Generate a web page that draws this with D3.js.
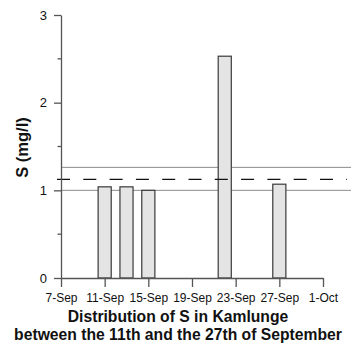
<!DOCTYPE html>
<html><head><meta charset="utf-8">
<script src="https://cdn.jsdelivr.net/npm/d3@7"></script>
<style>body{margin:0;background:#fff}svg{display:block}text{font-family:Arial,"Liberation Sans",sans-serif}</style>
</head><body>
<svg id="c" width="354" height="345"></svg>
<script>
const dates = ["2008-09-11","2008-09-13","2008-09-15","2008-09-22","2008-09-27"];
const values = [1.04, 1.04, 1.0, 2.53, 1.07];
const tickDates = ["2008-09-07","2008-09-11","2008-09-15","2008-09-19","2008-09-23","2008-09-27","2008-10-01"];
const yTicks = [0,1,2,3];
const refLines = [1.262, 1.0];
const meanLine = [1.125];
const titleLines = ["Distribution of S in Kamlunge","between the 11th and the 27th of September"];
const yLabel = "S (mg/l)";

const parse = d3.utcParse("%Y-%m-%d");
const fmt = d3.utcFormat("%-d-%b");
const svg = d3.select("#c");
const x = d3.scaleUtc().domain([parse(tickDates[0]), parse(tickDates[tickDates.length-1])]).range([61,323]);
const y = d3.scaleLinear().domain([0,3]).range([278,15]);
const dayW = x(parse("2008-09-12")) - x(parse("2008-09-11"));
const barW = dayW*1.2;

// reference lines
svg.selectAll(".ref").data(refLines).enter().append("line")
  .attr("x1",61).attr("x2",351).attr("y1",d=>y(d)).attr("y2",d=>y(d))
  .attr("stroke","#8c8c8c").attr("stroke-width",1);

// bars
svg.selectAll(".bar").data(dates.map((d,i)=>({d:parse(d),v:values[i]}))).enter().append("rect")
  .attr("x",d=>x(d.d)-barW/2).attr("width",barW)
  .attr("y",d=>y(d.v)).attr("height",d=>y(0)-y(d.v))
  .attr("fill","#e4e4e4").attr("stroke","#3a3a3a").attr("stroke-width",1.2);

// dashed mean line
svg.selectAll(".mean").data(meanLine).enter().append("line")
  .attr("x1",57).attr("x2",347).attr("y1",d=>y(d)).attr("y2",d=>y(d))
  .attr("stroke","#111").attr("stroke-width",1.3).attr("stroke-dasharray","13,13.3");

// y axis
const yAxis = d3.axisLeft(y).tickValues(yTicks).tickFormat(d3.format("d")).tickSize(7).tickSizeOuter(0);
const gy = svg.append("g").attr("transform","translate(61,0)").call(yAxis);
gy.select(".domain").attr("stroke","#555").attr("stroke-width",1.3);
gy.selectAll(".tick line").attr("stroke","#555").attr("stroke-width",1.3);
gy.selectAll(".tick text").attr("font-size",13).attr("fill","#111").attr("x",-14);
// minor ticks
svg.selectAll(".minor").data([0.5,1.5,2.5]).enter().append("line")
  .attr("x1",57.5).attr("x2",61).attr("y1",d=>y(d)).attr("y2",d=>y(d))
  .attr("stroke","#555").attr("stroke-width",1.3);

// x axis
const xAxis = d3.axisBottom(x).tickValues(tickDates.map(parse)).tickFormat(fmt).tickSize(9).tickSizeOuter(0);
const gx = svg.append("g").attr("transform","translate(0,278)").call(xAxis);
gx.select(".domain").attr("stroke","#555").attr("stroke-width",1.3);
gx.selectAll(".tick line").attr("stroke","#555").attr("stroke-width",1.3);
gx.selectAll(".tick text").attr("font-size",12).attr("fill","#111").attr("y",15.5);

// y label
svg.append("text").attr("transform","translate(27.5,147.5) rotate(-90)")
  .attr("text-anchor","middle").attr("font-size",16.5).attr("font-weight","bold").attr("fill","#111").text(yLabel);

// title
svg.selectAll(".title").data(titleLines).enter().append("text")
  .attr("x",178).attr("y",(d,i)=>321.5+i*18).attr("text-anchor","middle")
  .attr("font-size",15.7).attr("font-weight","bold").attr("fill","#111").text(d=>d);
</script>
</body></html>
